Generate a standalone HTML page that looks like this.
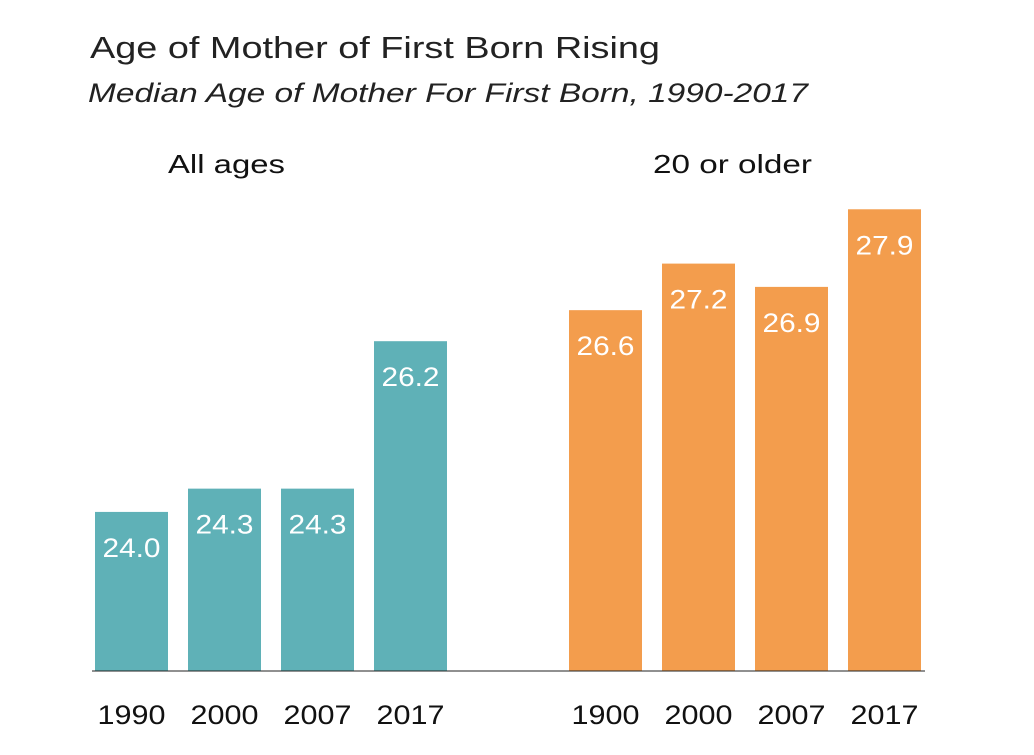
<!DOCTYPE html>
<html><head><meta charset="utf-8"><style>
body{margin:0;background:#fff;}
svg text{font-family:"Liberation Sans",sans-serif;}
</style></head><body>
<svg id="chart" width="1034" height="750">
<text x="90" y="58" font-size="31" fill="#222" textLength="570" lengthAdjust="spacingAndGlyphs">Age of Mother of First Born Rising</text>
<text x="88" y="102" font-size="27" font-style="italic" fill="#222" textLength="720" lengthAdjust="spacingAndGlyphs">Median Age of Mother For First Born, 1990-2017</text>
<text x="168" y="173" font-size="26" fill="#111" textLength="117" lengthAdjust="spacingAndGlyphs">All ages</text>
<text x="653" y="173" font-size="26" fill="#111" textLength="159" lengthAdjust="spacingAndGlyphs">20 or older</text>
<g id="bars"></g>
<line x1="92" y1="671" x2="925" y2="671" stroke="#222" stroke-width="1"/>
</svg>
<script>
const categoriesA = ["1990","2000","2007","2017"];
const valuesA = [24.0,24.3,24.3,26.2];
const categoriesB = ["1900","2000","2007","2017"];
const valuesB = [26.6,27.2,26.9,27.9];
const yMin = 21.95, pxPerUnit = 77.6, baseY = 671;
function y(v){return baseY-(v-yMin)*pxPerUnit;}
const g=document.getElementById('bars');
const ns="http://www.w3.org/2000/svg";
function draw(cats,vals,x0,color,grp){
  cats.forEach((c,i)=>{
    const x=x0+i*93, w=73, top=y(vals[i]);
    const r=document.createElementNS(ns,'rect');
    r.setAttribute('x',x);r.setAttribute('y',top);r.setAttribute('width',w);r.setAttribute('height',baseY-top);r.setAttribute('fill',color);
    
    
    g.appendChild(r);
    const t=document.createElementNS(ns,'text');
    t.setAttribute('x',x+w/2-29);t.setAttribute('y',top+45);t.setAttribute('font-size','27');t.setAttribute('fill','#fff');
    t.setAttribute('textLength','58');t.setAttribute('lengthAdjust','spacingAndGlyphs');
    t.textContent=vals[i].toFixed(1);
    
    
    g.appendChild(t);
    const l=document.createElementNS(ns,'text');
    l.setAttribute('x',x+w/2-34);l.setAttribute('y',724);l.setAttribute('font-size','27');l.setAttribute('fill','#111');
    l.setAttribute('textLength','68');l.setAttribute('lengthAdjust','spacingAndGlyphs');
    l.textContent=c;
    
    
    g.appendChild(l);
  });
}
draw(categoriesA,valuesA,95,'#5fb1b7','all');
draw(categoriesB,valuesB,569,'#f39d4d','older');
</script>
</body></html>
